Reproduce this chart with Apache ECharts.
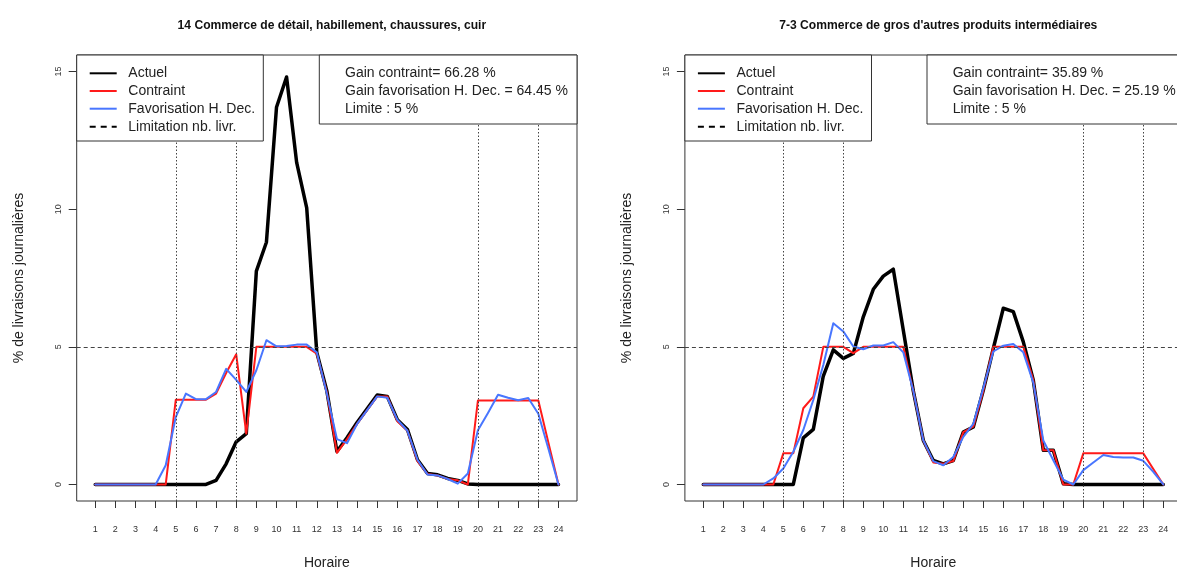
<!DOCTYPE html>
<html><head><meta charset="utf-8">
<script src="https://cdn.jsdelivr.net/npm/echarts@6/dist/echarts.min.js"></script>
<style>html,body{margin:0;padding:0;background:#fff}#c{width:1177px;height:569px}</style>
</head><body><div id="c"></div>
<script>
// ---- data ----
const hours = [1,1.5,2,2.5,3,3.5,4,4.5,5,5.5,6,6.5,7,7.5,8,8.5,9,9.5,10,10.5,11,11.5,12,12.5,13,13.5,14,14.5,15,15.5,16,16.5,17,17.5,18,18.5,19,19.5,20,20.5,21,21.5,22,22.5,23,23.5,24];
const xTickValues = [1,2,3,4,5,6,7,8,9,10,11,12,13,14,15,16,17,18,19,20,21,22,23,24];
const yTickValues = [0,5,10,15];
const limitHours = [5,8,20,23];
const limitValue = 5;
const titles = ['14 Commerce de détail, habillement, chaussures, cuir', '7-3 Commerce de gros d\'autres produits intermédiaires'];
const seriesNames = ['Actuel','Contraint','Favorisation H. Dec.','Limitation nb. livr.'];
const gainTexts1 = ['Gain contraint= 66.28 %','Gain favorisation H. Dec. = 64.45 %','Limite : 5 %'];
const gainTexts2 = ['Gain contraint= 35.89 %','Gain favorisation H. Dec. = 25.19 %','Limite : 5 %'];

const actuel1 = [0,0,0,0,0,0,0,0, 0,0,0,0, 0.15,0.75,1.55,1.85, 7.75,8.8,13.7,14.8, 11.7,10.05,4.8,3.4, 1.2,1.7,2.25,2.75, 3.25,3.2,2.35,2.0, 0.9,0.4,0.35,0.22, 0.15,0.02,0,0, 0,0,0,0, 0,0,0];
const contraint1 = [0,0,0,0,0,0,0,0, 3.08,3.08,3.08,3.08, 3.3,4.05,4.73,1.85, 5,5,5,5, 5,5,4.75,3.35, 1.15,1.65,2.2,2.7, 3.2,3.2,2.3,1.95, 0.85,0.38,0.33,0.2, 0.15,0,3.05,3.05, 3.05,3.05,3.05,3.05, 3.05,1.52,0];
const favor1 = [0,0,0,0,0,0,0,0.7, 2.45,3.3,3.1,3.1, 3.36,4.2,3.8,3.36, 4.15,5.24,5.02,5.03, 5.08,5.08,4.8,3.3, 1.65,1.5,2.2,2.7, 3.2,3.15,2.35,1.95, 0.9,0.36,0.33,0.2, 0.03,0.4,1.97,2.6, 3.26,3.15,3.06,3.14, 2.57,1.3,0];
const actuel2 = [0,0,0,0,0,0,0,0, 0,0,1.69,2.0, 3.94,4.89,4.58,4.76, 6.09,7.09,7.57,7.82, 5.6,3.4,1.6,0.87, 0.75,0.87,1.9,2.09, 3.42,4.94,6.4,6.28, 5.18,3.79,1.24,1.24, 0.03,0,0,0, 0,0,0,0, 0,0,0];
const contraint2 = [0,0,0,0,0,0,0,0, 1.13,1.13,2.77,3.19, 5,5,5,4.77, 5,5,5,5, 5,3.4,1.6,0.8, 0.75,0.85,1.9,2.1, 3.4,5,5,5, 5,3.79,1.24,1.24, 0,0,1.13,1.13, 1.13,1.13,1.13,1.13, 1.13,0.56,0];
const favor2 = [0,0,0,0,0,0,0,0.22, 0.58,1.19,1.98,3.07, 4.34,5.86,5.56,5.01, 4.91,5.05,5.05,5.17, 4.8,3.4,1.6,0.85, 0.7,1.0,1.73,2.2, 3.5,4.83,5.04,5.1, 4.8,3.7,1.6,0.88, 0.18,0,0.52,0.8, 1.07,1.0,0.98,0.98, 0.86,0.46,0];

// ---- layout / style ----
const FONT = 'Liberation Sans, Arial, sans-serif';
const AX = '#333';
const COLORS = ['#000000', '#ff1a1a', '#4876ff'];
const WIDTHS = [3.5, 2, 2];
const TOP = 55, HEIGHT = 446;
const panels = [
  {left: 76.7, width: 500.3, act: actuel1, con: contraint1, fav: favor1, gain: gainTexts1, gainLeft: 319.3},
  {left: 684.9, width: 496.8, act: actuel2, con: contraint2, fav: favor2, gain: gainTexts2, gainLeft: 927}
];

const pairs = arr => hours.map((h, i) => [h, arr[i]]);

const option = {
  animation: false,
  backgroundColor: '#fff',
  title: panels.map((p, i) => ({
    text: titles[i], left: p.left + p.width / 2, top: 15, textAlign: 'center',
    textStyle: {fontFamily: FONT, fontSize: 12.1, fontWeight: 'bold', color: '#111'}
  })),
  grid: panels.map(p => ({left: p.left, top: TOP, width: p.width, height: HEIGHT,
    outerBoundsMode: 'none',
    show: true, borderColor: AX, borderWidth: 1, backgroundColor: 'transparent', containLabel: false})),
  xAxis: panels.map((p, i) => ({
    type: 'value', gridIndex: i, min: 0.08, max: 24.92, position: 'bottom',
    name: 'Horaire', nameLocation: 'middle', nameGap: 55,
    nameTextStyle: {fontFamily: FONT, fontSize: 14, color: '#222'},
    axisLine: {show: false, onZero: false}, splitLine: {show: false},
    axisTick: {show: true, length: 7, inside: false, customValues: xTickValues, lineStyle: {color: AX}},
    axisLabel: {show: true, customValues: xTickValues, margin: 24, fontFamily: FONT, fontSize: 9, color: '#333'}
  })),
  yAxis: panels.map((p, i) => ({
    type: 'value', gridIndex: i, min: -0.6, max: 15.6, position: 'left',
    name: '% de livraisons journalières', nameLocation: 'middle', nameGap: 51, nameRotate: 90,
    nameTextStyle: {fontFamily: FONT, fontSize: 14, color: '#222'},
    axisLine: {show: false, onZero: false}, splitLine: {show: false},
    axisTick: {show: true, length: 8, inside: false, customValues: yTickValues, lineStyle: {color: AX}},
    axisLabel: {show: true, customValues: yTickValues, rotate: 90, margin: 14, fontFamily: FONT, fontSize: 9, color: '#333'}
  })),
  series: [],
  graphic: []
};

panels.forEach((p, i) => {
  option.series.push({
    type: 'line', xAxisIndex: i, yAxisIndex: i, data: [], silent: true, z: 1,
    markLine: {silent: true, symbol: 'none', label: {show: false}, animation: false,
      data: limitHours.map(h => ({xAxis: h, lineStyle: {type: [1.5, 2], color: '#444', width: 1}}))
        .concat([{yAxis: limitValue, lineStyle: {type: [4, 3], color: '#444', width: 1}}])}
  });
  [p.act, p.con, p.fav].forEach((arr, k) => {
    option.series.push({
      type: 'line', name: seriesNames[k], xAxisIndex: i, yAxisIndex: i, data: pairs(arr),
      showSymbol: false, symbol: 'none', silent: true, z: 2 + k,
      lineStyle: {color: COLORS[k], width: WIDTHS[k], join: 'round', cap: 'round'}
    });
  });

  // legend box (top-left)
  const lx = p.left, rows = [73.3, 91, 108.7, 126.7];
  option.graphic.push({type: 'rect', z: 100, shape: {x: lx, y: TOP, width: 186.6, height: 86},
    style: {fill: '#fff', stroke: AX, lineWidth: 1}});
  rows.forEach((ry, k) => {
    option.graphic.push({type: 'line', z: 101,
      shape: {x1: lx + 13, y1: ry, x2: lx + 40, y2: ry},
      style: {stroke: k < 3 ? COLORS[k] : '#000', lineWidth: 2, lineDash: k === 3 ? [6, 5] : null}});
    option.graphic.push({type: 'text', z: 101, x: lx + 51.6, y: ry,
      style: {text: seriesNames[k], fontFamily: FONT, fontSize: 14, fill: '#222', verticalAlign: 'middle'}});
  });
  // gain box (top-right)
  option.graphic.push({type: 'rect', z: 100, shape: {x: p.gainLeft, y: TOP, width: p.left + p.width - p.gainLeft, height: 69},
    style: {fill: '#fff', stroke: AX, lineWidth: 1}});
  p.gain.forEach((t, k) => {
    option.graphic.push({type: 'text', z: 101, x: p.gainLeft + 25.7, y: rows[k],
      style: {text: t, fontFamily: FONT, fontSize: 14, fill: '#222', verticalAlign: 'middle'}});
  });
});

const chart = echarts.init(document.getElementById('c'), null, {renderer: 'canvas'});
chart.setOption(option);
</script>
</body></html>
